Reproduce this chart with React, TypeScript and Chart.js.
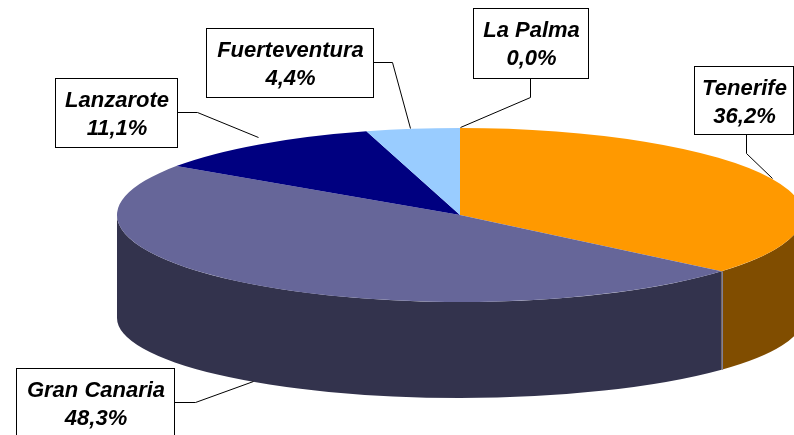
import React, { useEffect, useRef } from "react";
import { Chart, registerables } from "chart.js";

Chart.register(...registerables);

// ---- data ----
const islands = ["Tenerife", "Gran Canaria", "Lanzarote", "Fuerteventura", "La Palma"];
const shares = [36.2, 48.3, 11.1, 4.4, 0.0];
const topColors = ["#FF9900", "#666699", "#000080", "#99CCFF", "#FFFFCC"];
const sideColors = ["#804D00", "#33334D", "#000040", "#4D6680", "#808066"];

// ---- layout (geometry of the 3D projection & label placement) ----
const TOP_RX = 343;
const TOP_RY = 87;
const BOTTOM_OFFSET = 103; // vertical offset of bottom ellipse center
const BOTTOM_RY = 80;

// box: [x, y, w, h] in island order; leader: polyline points in island order
const labelBoxes: number[][] = [
  [694, 66, 99, 68],
  [16, 368, 158, 72],
  [55, 78, 122, 69],
  [206, 28, 167, 69],
  [473, 8, 115, 70],
];
const leaderLines: number[][][] = [
  [[746, 134], [746, 153], [772, 178]],
  [[174, 402], [195, 402], [253, 381]],
  [[177, 112], [197, 112], [258, 137]],
  [[373, 62], [392, 62], [410, 128]],
  [[530, 78], [530, 97], [460, 127]],
];

const FONT = "italic bold 22px 'Liberation Sans', Arial, sans-serif";

const pie3d = {
  id: "pie3d",
  beforeDatasetsDraw(chart: any) {
    const ctx: CanvasRenderingContext2D = chart.ctx;
    const meta = chart.getDatasetMeta(0);
    const arcs = meta.data;
    ctx.save();
    if (!arcs.length) return;
    const el = arcs[0];
    const cx = el.x, cy = el.y, R = el.outerRadius;
    const cyB = cy + BOTTOM_OFFSET;
    // side walls (visible front half: angles 0..PI)
    arcs.forEach((a: any, i: number) => {
      if (a.endAngle - a.startAngle <= 0) return;
      for (const shift of [-2 * Math.PI, 0, 2 * Math.PI]) {
        const b1 = Math.max(a.startAngle + shift, 0);
        const b2 = Math.min(a.endAngle + shift, Math.PI);
        if (b2 > b1) {
          ctx.beginPath();
          ctx.ellipse(cx, cy, TOP_RX, TOP_RY, 0, b1, b2, false);
          ctx.ellipse(cx, cyB, TOP_RX, BOTTOM_RY, 0, b2, b1, true);
          ctx.closePath();
          ctx.fillStyle = sideColors[i];
          ctx.fill();
        }
      }
    });
    // edge lines between walls
    arcs.forEach((a: any) => {
      let ang = a.startAngle;
      while (ang < 0) ang += 2 * Math.PI;
      while (ang >= 2 * Math.PI) ang -= 2 * Math.PI;
      if (ang > 0.01 && ang < Math.PI - 0.01) {
        const x = Math.round(cx + TOP_RX * Math.cos(ang)) + 0.5;
        ctx.beginPath();
        ctx.moveTo(x, cy + TOP_RY * Math.sin(ang));
        ctx.lineTo(x, cyB + BOTTOM_RY * Math.sin(ang));
        ctx.strokeStyle = "#7F7F99";
        ctx.lineWidth = 1;
        ctx.stroke();
      }
    });
    // squash the library's circular pie into the top ellipse
    ctx.translate(cx, cy);
    ctx.scale(TOP_RX / R, TOP_RY / R);
    ctx.translate(-cx, -cy);
  },
  afterDatasetsDraw(chart: any) {
    chart.ctx.restore();
  },
  afterDraw(chart: any) {
    const ctx: CanvasRenderingContext2D = chart.ctx;
    ctx.save();
    ctx.strokeStyle = "#000000";
    ctx.lineWidth = 1;
    leaderLines.forEach((pts) => {
      ctx.beginPath();
      pts.forEach((p, j) => {
        if (j === 0) ctx.moveTo(p[0] + 0.5, p[1] + 0.5);
        else ctx.lineTo(p[0] + 0.5, p[1] + 0.5);
      });
      ctx.stroke();
    });
    ctx.font = FONT;
    ctx.textAlign = "center";
    ctx.textBaseline = "alphabetic";
    labelBoxes.forEach((b, i) => {
      const [x, y, w, h] = b;
      ctx.fillStyle = "#FFFFFF";
      ctx.fillRect(x, y, w, h);
      ctx.strokeStyle = "#000000";
      ctx.strokeRect(x + 0.5, y + 0.5, w, h);
      ctx.fillStyle = "#000000";
      const mx = x + w / 2 + 1;
      ctx.fillText(islands[i], mx, y + 29);
      ctx.fillText(shares[i].toFixed(1).replace(".", ",") + "%", mx, y + 57);
    });
    ctx.restore();
  },
};

export default function App() {
  const ref = useRef<HTMLCanvasElement | null>(null);
  useEffect(() => {
    if (!ref.current) return;
    const chart = new Chart(ref.current, {
      type: "pie",
      data: {
        labels: islands,
        datasets: [
          {
            data: shares,
            backgroundColor: topColors,
            borderWidth: 0,
            clip: false as any,
          },
        ],
      },
      options: {
        responsive: false,
        animation: false,
        events: [],
        rotation: 0,
        layout: { padding: { left: 126, right: 0, top: 0, bottom: 5 } },
        plugins: {
          legend: { display: false },
          tooltip: { enabled: false },
        },
      },
      plugins: [pie3d],
    });
    return () => chart.destroy();
  }, []);
  return (
    <div style={{ position: "absolute", left: 0, top: 0, width: 794, height: 435, background: "#fff" }}>
      <canvas ref={ref} width={794} height={435} />
    </div>
  );
}
